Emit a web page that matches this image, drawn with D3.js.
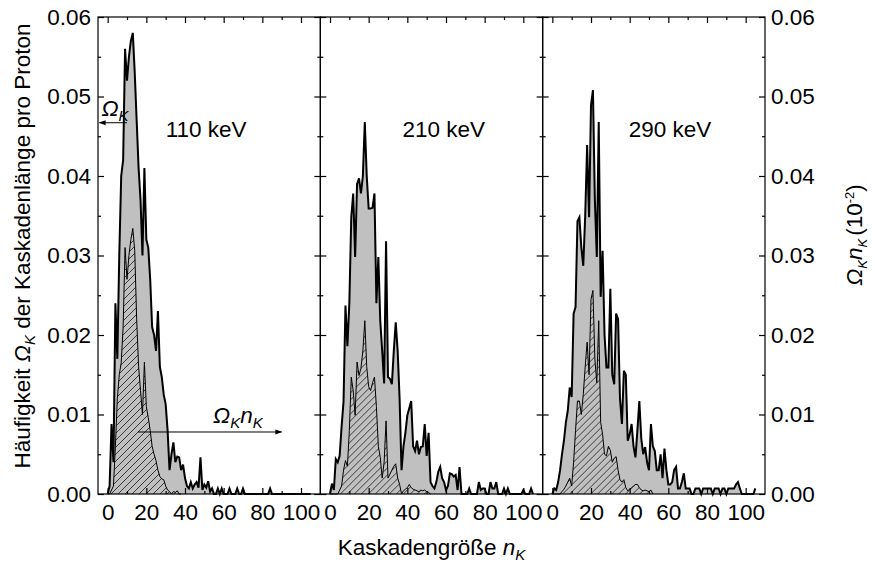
<!DOCTYPE html>
<html>
<head>
<meta charset="utf-8">
<script src="https://cdn.jsdelivr.net/npm/d3@7"></script>
<style>
  body { margin: 0; background: #fff; }
  text { font-family: Arial, "Liberation Sans", sans-serif; }
</style>
</head>
<body>
<svg id="chart" width="875" height="570"></svg>
<script>
const svg = d3.select('#chart');

const width = +svg.attr('width');
const height = +svg.attr('height');

// panel labels (proton energy)
const energies = ['110 keV', '210 keV', '290 keV'];

// cascade frequency Omega_K, one value per cascade size n = 0, 1, 2, ...
const omega110 = [
  0, 0.001, 0.0088, 0.004, 0.024, 0.017, 0.030, 0.040, 0.042, 0.056,
  0.052, 0.055, 0.057, 0.058, 0.053, 0.047, 0.041, 0.037, 0.030, 0.041,
  0.032, 0.031, 0.027, 0.021, 0.020, 0.018, 0.023, 0.016, 0.0147, 0.0125,
  0.0113, 0.008, 0.003, 0.005, 0.0065, 0.004, 0.0047, 0.0046, 0.003, 0.0037,
  0.002, 0.001, 0.0007, 0.0015, 0.0007, 0.0012, 0.0015, 0.0008, 0.0046, 0.0005,
  0.0012, 0.0008, 0.0016, 0.0003, 0.0007, 0, 0, 0.0007, 0, 0.0007,
  0, 0, 0, 0.0007, 0, 0, 0, 0.0007, 0, 0,
  0.0007, 0, 0, 0, 0, 0, 0, 0, 0, 0,
  0, 0, 0, 0, 0.0007, 0, 0, 0, 0, 0,
  0, 0, 0, 0, 0, 0, 0, 0, 0, 0,
  0, 0, 0, 0, 0, 0
];
const omega210 = [
  0, 0.0013, 0.0005, 0.0044, 0.004, 0.0048, 0.0085, 0.0116, 0.0237, 0.0186,
  0.024, 0.0348, 0.0378, 0.0298, 0.039, 0.0397, 0.0378, 0.040, 0.0468, 0.040,
  0.0359, 0.0359, 0.036, 0.0378, 0.024, 0.0298, 0.0218, 0.018, 0.0139, 0.0318,
  0.0147, 0.0145, 0.0138, 0.018, 0.0216, 0.018, 0.012, 0.003, 0.006, 0.0077,
  0.0099, 0.0108, 0.0117, 0.006, 0.0054, 0.0067, 0.005, 0.0059, 0.006, 0.0088,
  0.0048, 0.0077, 0.0015, 0.001, 0.0007, 0.0015, 0.0028, 0.0034, 0.002, 0.0015,
  0.0005, 0.001, 0.0026, 0.0025, 0.0022, 0.0024, 0.0005, 0.0034, 0, 0,
  0, 0, 0.0007, 0, 0, 0, 0, 0.0015, 0.0005, 0.0007,
  0.0007, 0, 0, 0.0015, 0.0007, 0.0007, 0.0015, 0, 0, 0,
  0.0007, 0, 0.0007, 0, 0, 0, 0, 0, 0, 0,
  0.0005, 0, 0, 0, 0.0007, 0
];
const omega290 = [
  0, 0.0007, 0.0005, 0.0015, 0.003, 0.005, 0.0067, 0.009, 0.0105, 0.0134,
  0.0122, 0.0227, 0.0235, 0.0343, 0.0348, 0.031, 0.0287, 0.035, 0.0439, 0.0348,
  0.0489, 0.0508, 0.037, 0.0298, 0.0468, 0.0248, 0.0306, 0.020, 0.0159, 0.0159,
  0.0258, 0.015, 0.0138, 0.0227, 0.022, 0.012, 0.0088, 0.0155, 0.015, 0.0067,
  0.0075, 0.0088, 0.006, 0.0046, 0.008, 0.0117, 0.007, 0.005, 0.0059, 0.004,
  0.003, 0.0088, 0.006, 0.0054, 0.003, 0.003, 0.005, 0.002, 0.0057, 0.003,
  0.0012, 0.0012, 0.0015, 0.003, 0.0034, 0.0007, 0.0007, 0.0015, 0.0026, 0.0007,
  0.0007, 0.0007, 0, 0, 0.0007, 0.0007, 0.0007, 0, 0.0007, 0.0007,
  0.0007, 0.0007, 0.0007, 0, 0.0007, 0.0007, 0.0007, 0, 0.0007, 0.0007,
  0, 0.0007, 0.0007, 0.0007, 0.0007, 0.0012, 0.0015, 0.0007, 0, 0,
  0, 0, 0, 0, 0, 0.0007
];

// Omega_K * n_K (right axis, 10^-2), same n = 0, 1, 2, ...
const omegaN110 = [
  0, 0, 0.0005, 0.001, 0.006, 0.012, 0.015, 0.0165, 0.021, 0.031,
  0.027, 0.030, 0.032, 0.0334, 0.0306, 0.022, 0.016, 0.013, 0.010, 0.0166,
  0.011, 0.0096, 0.008, 0.006, 0.005, 0.0042, 0.003, 0.0022, 0.0019, 0.0018,
  0.001, 0.0005, 0.0003, 0, 0.0003, 0.0002, 0.0004, 0, 0
];
const omegaN210 = [
  0, 0, 0, 0, 0, 0.0005, 0.001, 0.003, 0.0042, 0.0035,
  0.008, 0.0147, 0.013, 0.0099, 0.0166, 0.0149, 0.0158, 0.018, 0.0218, 0.016,
  0.0135, 0.013, 0.014, 0.0147, 0.011, 0.006, 0.0046, 0.002, 0.004, 0.0092,
  0.002, 0.0025, 0.003, 0.0035, 0.0038, 0.002, 0.0012, 0, 0.0004, 0.0006,
  0.0008, 0.0012, 0.0008, 0.0006, 0.0005, 0.0004, 0.0003, 0.0005, 0.0004, 0.0005,
  0.0003, 0.0002, 0
];
const omegaN290 = [
  0, 0, 0, 0, 0, 0.0003, 0.0006, 0.001, 0.0015, 0.002,
  0.001, 0.004, 0.008, 0.0117, 0.0117, 0.010, 0.0125, 0.016, 0.0191, 0.015,
  0.0245, 0.0256, 0.017, 0.014, 0.0218, 0.009, 0.0075, 0.005, 0.0048, 0.006,
  0.0055, 0.004, 0.0045, 0.0047, 0.003, 0.0018, 0.0015, 0.0018, 0.0008, 0.0004,
  0.0006, 0.0008, 0.001, 0.0012, 0.0012, 0.0008, 0.0005, 0.0004, 0.0005, 0.0004,
  0.0003, 0.0005, 0
];

const omegaSeries = [omega110, omega210, omega290];
const omegaNSeries = [omegaN110, omegaN210, omegaN290];

const xTicks = [0, 20, 40, 60, 80, 100];
const xMinorTicks = [10, 30, 50, 70, 90];
const yTicks = [0, 0.01, 0.02, 0.03, 0.04, 0.05, 0.06];
const yMinorTicks = [0.005, 0.015, 0.025, 0.035, 0.045, 0.055];

// where the energy label sits in each panel (n units)
const labelN = [30, 37.5, 39.5];

const render = () => {
  const margin = { top: 17, right: 110, bottom: 76, left: 98 };
  const innerWidth = width - margin.left - margin.right;
  const innerHeight = height - margin.top - margin.bottom;
  const panelWidth = innerWidth / 3;
  const fontSize = 22.5;
  const subSize = 15;

  const xScale = d3.scaleLinear().domain([-5, 110]).range([0, panelWidth]);
  const yScale = d3.scaleLinear().domain([0, 0.06]).range([innerHeight, 0]);

  // hatch pattern for Omega_K n_K
  const defs = svg.append('defs');
  const hatch = defs.append('pattern')
    .attr('id', 'hatch')
    .attr('patternUnits', 'userSpaceOnUse')
    .attr('width', 7).attr('height', 7);
  hatch.append('rect').attr('width', 7).attr('height', 7).attr('fill', '#c0c0c0');
  hatch.append('path')
    .attr('d', 'M-1,1 L1,-1 M0,7 L7,0 M6,8 L8,6')
    .attr('stroke', '#000').attr('stroke-width', 0.7);

  defs.append('marker')
    .attr('id', 'arrow')
    .attr('viewBox', '0 0 10 10')
    .attr('refX', 9).attr('refY', 5)
    .attr('markerWidth', 7).attr('markerHeight', 7)
    .attr('markerUnits', 'userSpaceOnUse')
    .attr('orient', 'auto')
    .append('path').attr('d', 'M0,1.5 L10,5 L0,8.5 Z').attr('fill', '#000');

  const area = d3.area()
    .x((d, i) => xScale(i))
    .y0(innerHeight)
    .y1(d => yScale(d));
  const line = d3.line()
    .x((d, i) => xScale(i))
    .y(d => yScale(d));

  const g = svg.append('g')
    .attr('transform', `translate(${margin.left}, ${margin.top})`);

  energies.forEach((energy, p) => {
    const pg = g.append('g')
      .attr('transform', `translate(${p * panelWidth}, 0)`);

    const omega = omegaSeries[p];
    const omegaN = omegaNSeries[p];

    pg.append('path').datum(omega).attr('d', area).attr('fill', '#c0c0c0');
    pg.append('path').datum(omegaN).attr('d', area).attr('fill', 'url(#hatch)');
    pg.append('path').datum(omega).attr('d', line)
      .attr('fill', 'none').attr('stroke', '#000').attr('stroke-width', 2);
    pg.append('path').datum(omegaN).attr('d', line)
      .attr('fill', 'none').attr('stroke', '#000').attr('stroke-width', 1);

    // bottom axis
    const bottomMinor = pg.append('g').attr('transform', `translate(0, ${innerHeight})`)
      .call(d3.axisBottom(xScale).tickValues(xMinorTicks).tickSize(-3).tickFormat(''));
    const bottom = pg.append('g').attr('transform', `translate(0, ${innerHeight})`)
      .call(d3.axisBottom(xScale).tickValues(xTicks).tickSize(-6).tickPadding(10));
    bottom.selectAll('text').attr('font-size', fontSize).attr('font-family', null);

    // top axis, ticks only
    const topMinor = pg.append('g')
      .call(d3.axisTop(xScale).tickValues(xMinorTicks).tickSize(-3).tickFormat(''));
    const top = pg.append('g')
      .call(d3.axisTop(xScale).tickValues(xTicks).tickSize(-6).tickFormat(''));

    // left and right ticks of every panel
    const left = pg.append('g')
      .call(d3.axisLeft(yScale).tickValues(yTicks).tickSize(-6).tickPadding(7)
        .tickFormat(p === 0 ? d3.format('.2f') : ''));
    const leftMinor = pg.append('g')
      .call(d3.axisLeft(yScale).tickValues(yMinorTicks).tickSize(-3).tickFormat(''));
    const right = pg.append('g').attr('transform', `translate(${panelWidth}, 0)`)
      .call(d3.axisRight(yScale).tickValues(yTicks).tickSize(-6).tickPadding(6)
        .tickFormat(p === 2 ? d3.format('.2f') : ''));
    const rightMinor = pg.append('g').attr('transform', `translate(${panelWidth}, 0)`)
      .call(d3.axisRight(yScale).tickValues(yMinorTicks).tickSize(-3).tickFormat(''));
    left.selectAll('text').attr('font-size', fontSize).attr('font-family', null);
    right.selectAll('text').attr('font-size', fontSize).attr('font-family', null);

    [bottomMinor, bottom, topMinor, top, left, leftMinor, right, rightMinor].forEach(a => {
      a.select('.domain').remove();
      a.selectAll('line').attr('stroke-width', 1.2);
    });

    pg.append('rect')
      .attr('width', panelWidth).attr('height', innerHeight)
      .attr('fill', 'none').attr('stroke', '#000').attr('stroke-width', 1.2);

    pg.append('text')
      .attr('x', xScale(labelN[p]))
      .attr('y', yScale(0.0449))
      .attr('font-size', fontSize)
      .text(energy);
  });

  // annotations in the first panel
  const omegaLabel = g.append('text')
    .attr('x', xScale(-3.2)).attr('y', yScale(0.0475))
    .attr('font-size', fontSize).attr('font-style', 'italic');
  omegaLabel.append('tspan').text('Ω');
  omegaLabel.append('tspan').attr('dy', 5).attr('font-size', subSize).text('K');

  g.append('line')
    .attr('x1', xScale(10)).attr('x2', xScale(-4.3))
    .attr('y1', yScale(0.0467)).attr('y2', yScale(0.0467))
    .attr('stroke', '#000').attr('stroke-width', 1)
    .attr('marker-end', 'url(#arrow)');

  const omegaNLabel = g.append('text')
    .attr('x', xScale(54.5)).attr('y', yScale(0.0089))
    .attr('font-size', fontSize).attr('font-style', 'italic');
  omegaNLabel.append('tspan').text('Ω');
  omegaNLabel.append('tspan').attr('dy', 5).attr('font-size', subSize).text('K');
  omegaNLabel.append('tspan').attr('dy', -5).text('n');
  omegaNLabel.append('tspan').attr('dy', 5).attr('font-size', subSize).text('K');

  g.append('line')
    .attr('x1', xScale(15.7)).attr('x2', xScale(90))
    .attr('y1', yScale(0.0078)).attr('y2', yScale(0.0078))
    .attr('stroke', '#000').attr('stroke-width', 1)
    .attr('marker-end', 'url(#arrow)');

  // axis titles
  const xTitle = svg.append('text')
    .attr('x', margin.left + innerWidth / 2)
    .attr('y', 555)
    .attr('text-anchor', 'middle')
    .attr('font-size', fontSize);
  xTitle.append('tspan').text('Kaskadengröße ');
  xTitle.append('tspan').attr('font-style', 'italic').text('n');
  xTitle.append('tspan').attr('font-style', 'italic').attr('font-size', subSize).attr('dy', 5).text('K');

  const yTitle = svg.append('text')
    .attr('transform', `translate(30, 246) rotate(-90)`)
    .attr('text-anchor', 'middle')
    .attr('font-size', fontSize);
  yTitle.append('tspan').text('Häufigkeit ');
  yTitle.append('tspan').attr('font-style', 'italic').text('Ω');
  yTitle.append('tspan').attr('font-style', 'italic').attr('font-size', subSize).attr('dy', 5).text('K');
  yTitle.append('tspan').attr('dy', -5).text(' der Kaskadenlänge pro Proton');

  const y2Title = svg.append('text')
    .attr('transform', `translate(862, 235) rotate(-90)`)
    .attr('text-anchor', 'middle')
    .attr('font-size', fontSize);
  y2Title.append('tspan').attr('font-style', 'italic').text('Ω');
  y2Title.append('tspan').attr('font-style', 'italic').attr('font-size', 13).attr('dy', 5).text('K');
  y2Title.append('tspan').attr('font-style', 'italic').attr('dy', -5).text('n');
  y2Title.append('tspan').attr('font-style', 'italic').attr('font-size', 13).attr('dy', 5).text('K');
  y2Title.append('tspan').attr('dy', -5).attr('dx', 3).text('(10');
  y2Title.append('tspan').attr('font-size', 13).attr('dy', -8).text('-2');
  y2Title.append('tspan').attr('dy', 8).text(')');
};

render();
</script>
</body>
</html>
